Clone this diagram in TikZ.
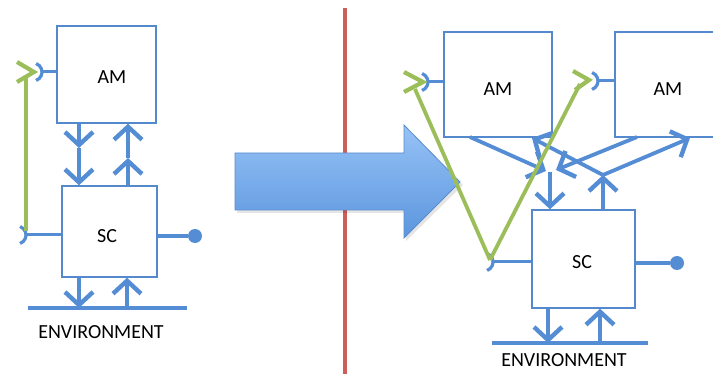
\documentclass[tikz,border=0pt]{standalone}
\usepackage{fontspec}
\setmainfont{Carlito}
\usetikzlibrary{arrows.meta}

\definecolor{linkblue}{RGB}{84,141,212}
\definecolor{boxblue}{RGB}{84,138,205}
\definecolor{wiregreen}{RGB}{155,190,90}
\definecolor{dividerred}{RGB}{205,95,90}
\definecolor{arrowtop}{RGB}{150,194,246}
\definecolor{arrowbot}{RGB}{92,150,222}
\definecolor{arrowedge}{RGB}{88,140,205}

\begin{document}
\begin{tikzpicture}[x=1pt,y=-1pt,
  box/.style={draw=boxblue, line width=1.4pt, fill=white, inner sep=0pt},
  lbl/.style={font=\fontsize{20}{24}\selectfont, text=black, inner sep=0pt},
  link/.style={draw=linkblue, line width=3.8pt},
  flow/.style={link, -{Straight Barb[length=13pt,width=28pt,line width=4.4pt]}},
  socketarc/.style={draw=linkblue, line width=3.2pt},
  ball/.style={circle, fill=linkblue, minimum size=14pt, inner sep=0pt},
  wire/.style={draw=wiregreen, line width=3.8pt},
  chevron/.style={draw=wiregreen, line width=4.2pt, line join=miter},
]
\useasboundingbox (0,0) rectangle (713,374);
\clip (0,0) rectangle (713,374);

% ---------- divider ----------
\coordinate (divTop) at (345,8);
\coordinate (divBot) at (345,374);
\draw[dividerred, line width=4pt] (divTop) -- (divBot);

% ---------- transition arrow ----------
\fill[black, opacity=0.10]
  (237,156) -- (406,156) -- (406,128) -- (463,185) -- (406,241) -- (406,213) -- (237,213) -- cycle;
\shade[top color=arrowtop, bottom color=arrowbot, draw=arrowedge, line width=0.8pt]
  (235,153) -- (404,153) -- (404,125) -- (460,182) -- (404,238) -- (404,210) -- (235,210) -- cycle;

% ================= single module =================
\node[box, minimum width=99pt, minimum height=97pt] (amL) at (106.5,74.5) {};
\node[lbl] (amLtxt) at (112,77) {AM};
\node[box, minimum width=95pt, minimum height=91pt] (scL) at (109.5,231.5) {};
\node[lbl] (scLtxt) at (107,236) {SC};

% links between AM and SC (two heads each)
\coordinate (dnL) at (79,148);
\coordinate (upL) at (128,158);
\draw[flow] (dnL |- amL.south) -- (dnL);
\draw[flow] (dnL) -- (dnL |- scL.north);
\draw[flow] (upL |- scL.north) -- (upL);
\draw[flow] (upL) -- (upL |- amL.south);

% environment
\coordinate (envLa) at (28,308);
\coordinate (envLb) at (187,308);
\draw[link] (envLa) -- (envLb);
\node[lbl] (envLtxt) at (101,332) {ENVIRONMENT};
\coordinate (dnLb) at (79,308);
\coordinate (upLb) at (127,308);
\draw[flow] (dnLb |- scL.south) -- (dnLb);
\draw[flow] (upLb) -- (upLb |- scL.south);

% provided interface
\node[ball] (ballL) at (195,236) {};
\draw[link] (scL.east |- ballL) -- (ballL);

% required interfaces (sockets)
\coordinate (sockAL) at (33,72);
\coordinate (sockSL) at (17,235);
\draw[link, line width=3pt] (amL.west |- sockAL) -- ([xshift=9pt]sockAL);
\draw[socketarc] ([shift={(70:9)}]sockAL) arc[start angle=70, end angle=-70, radius=9];
\draw[link, line width=3pt] (scL.west |- sockSL) -- ([xshift=9pt]sockSL);
\draw[socketarc] ([shift={(70:9)}]sockSL) arc[start angle=70, end angle=-70, radius=9];

% feedback wire
\coordinate (wireLb) at (26,231);
\coordinate (wireLt) at (26,78);
\draw[wire] (wireLb) -- (wireLt);
\coordinate (plugL) at (34,72);
\draw[chevron] (17,62) -- (plugL) -- (17,82);

% ================= composed modules =================
\node[box, minimum width=108pt, minimum height=105pt] (amA) at (498,84.5) {};
\node[lbl] (amAtxt) at (498,89) {AM};
\node[box, minimum width=106pt, minimum height=105pt] (amB) at (668,84.5) {};
\node[lbl] (amBtxt) at (668,89) {AM};
\node[box, minimum width=103pt, minimum height=98pt] (scR) at (583.5,259) {};
\node[lbl] (scRtxt) at (582,262) {SC};

% downward links merging into SC
\coordinate (fromA) at (470,137);
\coordinate (fromB) at (637,137);
\coordinate (mrgA) at (546,171);
\coordinate (mrgB) at (556,170);
\coordinate (mrg) at (550,172);
\draw[flow] (fromA) -- (mrgA);
\draw[flow] (fromB) -- (mrgB);
\draw[flow] (mrg) -- (mrg |- scR.north);

% upward links branching to both AMs
\coordinate (brn) at (603,175);
\coordinate (toA) at (532,138);
\coordinate (toB) at (690,138);
\draw[flow] (brn |- scR.north) -- (brn);
\draw[flow] (brn) -- (toA);
\draw[flow] (brn) -- (toB);

% environment
\coordinate (envRa) at (492,343);
\coordinate (envRb) at (648,343);
\draw[link] (envRa) -- (envRb);
\node[lbl] (envRtxt) at (564,360) {ENVIRONMENT};
\coordinate (dnRb) at (548,343);
\coordinate (upRb) at (600,343);
\draw[flow] (dnRb |- scR.south) -- (dnRb);
\draw[flow] (upRb) -- (upRb |- scR.south);

% provided interface
\node[ball] (ballR) at (677,263) {};
\draw[link] (scR.east |- ballR) -- (ballR);

% sockets
\coordinate (sockA) at (419,82);
\coordinate (sockB) at (589,81);
\coordinate (sockS) at (484,262);
\draw[link, line width=3pt] (amA.west |- sockA) -- ([xshift=9pt]sockA);
\draw[socketarc] ([shift={(70:9)}]sockA) arc[start angle=70, end angle=-70, radius=9];
\draw[link, line width=3pt] (amB.west |- sockB) -- ([xshift=9pt]sockB);
\draw[socketarc] ([shift={(70:9)}]sockB) arc[start angle=70, end angle=-70, radius=9];
\draw[link, line width=3pt] (scR.west |- sockS) -- ([xshift=9pt]sockS);
\draw[socketarc] ([shift={(70:9)}]sockS) arc[start angle=70, end angle=-70, radius=9];

% wires from SC socket to both AM sockets
\coordinate (wireRb) at (490,260);
\coordinate (wireAt) at (415,89);
\coordinate (wireBt) at (580,84);
\draw[wire] (wireRb) -- (wireAt);
\draw[wire] (wireRb) -- (wireBt);
\coordinate (plugA) at (423,82);
\coordinate (plugB) at (589,80);
\draw[chevron] (404,72) -- (plugA) -- (404,92);
\draw[chevron] (573,71) -- (plugB) -- (575,90);
\end{tikzpicture}
\end{document}
